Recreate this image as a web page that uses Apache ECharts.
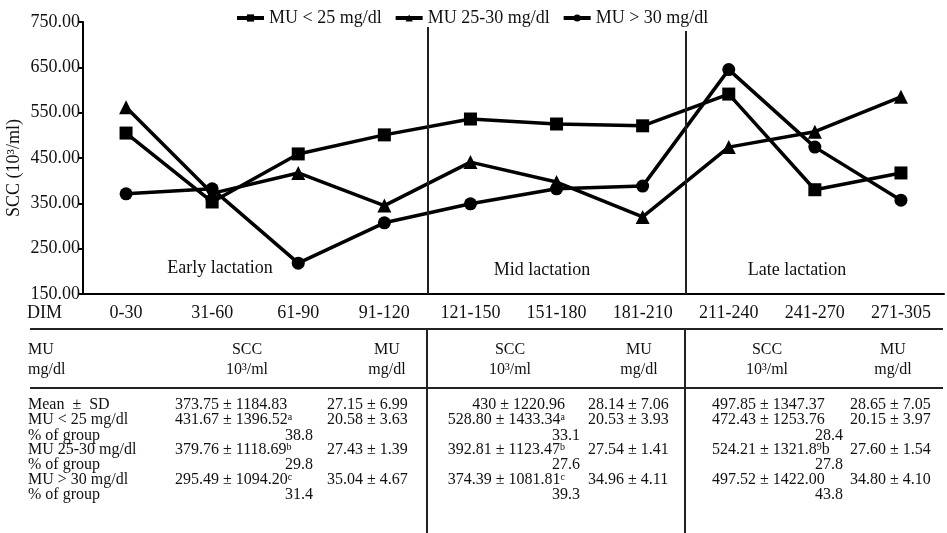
<!DOCTYPE html>
<html>
<head>
<meta charset="utf-8">
<script src="https://cdn.jsdelivr.net/npm/echarts@6/dist/echarts.min.js"></script>
<style>html,body{margin:0;padding:0;background:#fff}#c{width:947px;height:533px}</style>
</head>
<body>
<div id="c"></div>
<script>
const categories = ['0-30','31-60','61-90','91-120','121-150','151-180','181-210','211-240','241-270','271-305'];
const seriesNames = ['MU < 25 mg/dl','MU 25-30 mg/dl','MU > 30 mg/dl'];
const muLow = [505, 353, 459, 501, 536, 525, 521, 591, 380, 417];
const muMid = [562, 372, 417, 345, 441, 397, 320, 474, 508, 585];
const muHigh = [371, 382, 218, 307, 349, 382, 388, 645, 474, 357];
const yTicks = [150, 250, 350, 450, 550, 650, 750];
const phaseNames = ['Early lactation','Mid lactation','Late lactation'];
const phaseBoundaries = [4, 7];

const rowLabels = ['Mean  ±  SD','MU < 25 mg/dl','% of group','MU 25-30 mg/dl','% of group','MU > 30 mg/dl','% of group'];
const sccEarly = ['373.75 ± 1184.83','431.67 ± 1396.52{sup|a}','379.76 ± 1118.69{sup|b}','295.49 ± 1094.20{sup|c}'];
const muEarly = ['27.15 ± 6.99','20.58 ± 3.63','27.43 ± 1.39','35.04 ± 4.67'];
const pctEarly = ['38.8','29.8','31.4'];
const sccMid = ['430 ± 1220.96','528.80 ± 1433.34{sup|a}','392.81 ± 1123.47{sup|b}','374.39 ± 1081.81{sup|c}'];
const muMidT = ['28.14 ± 7.06','20.53 ± 3.93','27.54 ± 1.41','34.96 ± 4.11'];
const pctMid = ['33.1','27.6','39.3'];
const sccLate = ['497.85 ± 1347.37','472.43 ± 1253.76','524.21 ± 1321.8{sup|9}b','497.52 ± 1422.00'];
const muLate = ['28.65 ± 7.05','20.15 ± 3.97','27.60 ± 1.54','34.80 ± 4.10'];
const pctLate = ['28.4','27.8','43.8'];

const FONT = 'Liberation Serif, Times New Roman, serif';
const chart = echarts.init(document.getElementById('c'));

const graphics = [];
function txt(x, y, text, align, size, extra) {
  graphics.push(Object.assign({
    type: 'text', x: x, y: y, silent: true,
    style: {
      text: text, fill: '#111', fontFamily: FONT, fontSize: size || 16,
      align: align || 'left', verticalAlign: 'middle',
      rich: { sup: { fontSize: 10, fontFamily: FONT, fill: '#111', verticalAlign: 'top', padding: [0,0,6,0] } }
    }
  }, extra || {}));
}
function line(x1, y1, x2, y2, w) {
  graphics.push({type:'line', silent:true, shape:{x1:x1,y1:y1,x2:x2,y2:y2}, style:{stroke:'#222', lineWidth:w||2}});
}
// axis name & DIM
txt(14, 168, 'SCC (10³/ml)', 'center', 18, {rotation: Math.PI/2});
txt(27, 313, 'DIM', 'left', 18);
// phase labels
txt(220, 268, phaseNames[0], 'center', 18);
txt(542, 270, phaseNames[1], 'center', 18);
txt(797, 270, phaseNames[2], 'center', 18);
// table lines
line(30, 329, 943, 329, 1.8);
line(30, 388, 943, 388, 1.8);
line(427, 329, 427, 533, 2);
line(685, 329, 685, 533, 2);
// headers
txt(28, 350, 'MU', 'left');
txt(28, 370, 'mg/dl', 'left');
[247, 510, 767].forEach(function(cx){ txt(cx, 350, 'SCC', 'center'); txt(cx, 370, '10³/ml', 'center'); });
[387, 639, 893].forEach(function(cx){ txt(cx, 350, 'MU', 'center'); txt(cx, 370, 'mg/dl', 'center'); });
// rows
const rowY = [405, 420, 436, 450, 465, 480, 495];
rowLabels.forEach(function(l, i){ txt(28, rowY[i], l, 'left'); });
const dataRows = [0, 1, 3, 5];
const pctRows = [2, 4, 6];
dataRows.forEach(function(r, i){
  txt(175, rowY[r], sccEarly[i], 'left');
  txt(327, rowY[r], muEarly[i], 'left');
  txt(565, rowY[r], sccMid[i], 'right');
  txt(588, rowY[r], muMidT[i], 'left');
  txt(712, rowY[r], sccLate[i], 'left');
  txt(850, rowY[r], muLate[i], 'left');
});
pctRows.forEach(function(r, i){
  txt(313, rowY[r], pctEarly[i], 'right');
  txt(580, rowY[r], pctMid[i], 'right');
  txt(843, rowY[r], pctLate[i], 'right');
});

function mkSeries(name, data, symbol) {
  return {
    name: name, type: 'line', data: data, symbol: symbol, symbolSize: symbol === 'triangle' ? 14 : 13,
    lineStyle: {color: '#000', width: 3.5}, itemStyle: {color: '#000'},
    emphasis: {disabled: true}, animation: false
  };
}

chart.setOption({
  animation: false,
  textStyle: {fontFamily: FONT},
  grid: {left: 83, right: 3, top: 22, bottom: 239, containLabel: false},
  legend: {
    left: 230, top: 4, itemWidth: 27, itemHeight: 9, itemGap: 12,
    lineStyle: {width: 4, color: '#000'},
    textStyle: {fontFamily: FONT, fontSize: 18, color: '#111'},
    data: seriesNames
  },
  xAxis: [{
    type: 'category', data: categories, boundaryGap: true,
    axisLine: {lineStyle: {color: '#000', width: 2}},
    axisTick: {inside: true, length: 5, lineStyle: {color: '#000', width: 2}},
    axisLabel: {fontFamily: FONT, fontSize: 18, color: '#111', margin: 10},
    splitLine: {show: false}
  }, {
    type: 'value', min: 0, max: 10, show: false
  }],
  yAxis: {
    type: 'value', min: yTicks[0], max: yTicks[yTicks.length-1], interval: 100,
    axisLine: {show: true, lineStyle: {color: '#000', width: 2}},
    axisTick: {show: true, length: 4, lineStyle: {color: '#000', width: 2}},
    axisLabel: {fontFamily: FONT, fontSize: 18, color: '#111', margin: 3, formatter: function(v){ return v.toFixed(2); }},
    splitLine: {show: false}
  },
  series: [
    mkSeries(seriesNames[0], muLow, 'rect'),
    mkSeries(seriesNames[1], muMid, 'triangle'),
    mkSeries(seriesNames[2], muHigh, 'circle'),
    {
      type: 'line', xAxisIndex: 1, data: [], silent: true,
      markLine: {
        silent: true, symbol: 'none', label: {show: false},
        lineStyle: {color: '#222', width: 2, type: 'solid'},
        data: [
          [{coord: [phaseBoundaries[0], 739]}, {coord: [phaseBoundaries[0], 150]}],
          [{coord: [phaseBoundaries[1], 730]}, {coord: [phaseBoundaries[1], 150]}]
        ]
      }
    }
  ],
  graphic: graphics
});
</script>
</body>
</html>
